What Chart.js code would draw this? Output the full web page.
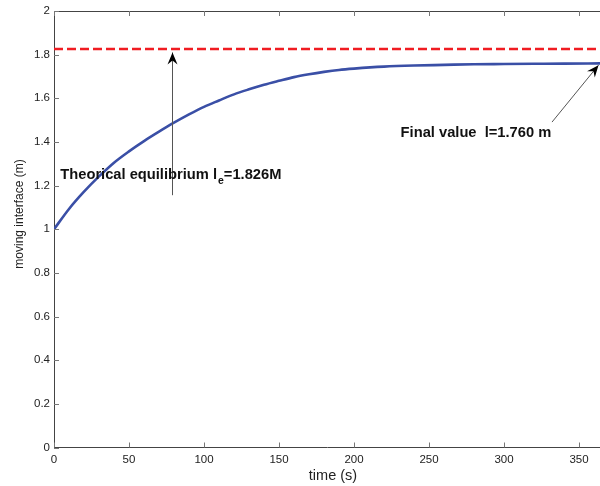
<!DOCTYPE html>
<html>
<head>
<meta charset="utf-8">
<script src="https://cdn.jsdelivr.net/npm/chart.js@4/dist/chart.umd.min.js"></script>
<style>
  html, body { margin: 0; padding: 0; background: #fff; overflow: hidden; }
  #wrap { width: 600px; height: 486px; position: relative; }
</style>
</head>
<body>
<div id="wrap"><canvas id="c" width="600" height="486"></canvas></div>
<script>
// ---- data ----
const times = [0, 10, 20, 30, 40, 50, 60, 70, 80, 90, 100, 110, 120, 130, 140, 150, 160, 170, 180, 190, 200, 220, 240, 260, 280, 300, 320, 340, 364];
const interfacePos = [1.000, 1.093, 1.172, 1.242, 1.305, 1.357, 1.404, 1.447, 1.488, 1.526, 1.561, 1.590, 1.618, 1.641, 1.662, 1.680, 1.697, 1.710, 1.721, 1.730, 1.736, 1.745, 1.750, 1.753, 1.756, 1.757, 1.758, 1.759, 1.760];
const equilibrium = 1.826;
const xRange = [0, 364];
const yRange = [0, 2];
const xStep = 50;
const yStep = 0.2;
const xTitle = 'time (s)';
const yTitle = 'moving interface (m)';
const eqLabel = ['Theorical equilibrium l', 'e', '=1.826M'];
const finalLabel = 'Final value  l=1.760 m';
// annotation anchors in data units
const eqArrow = { from: [79, 1.156], to: [79, 1.81] };
const eqText = { x: 4.2, y: 1.229 };
const finalArrow = { from: [332, 1.491], to: [363, 1.752] };
const finalText = { x: 331.5, y: 1.422 };

const FONT = '"Liberation Sans", Arial, Helvetica, sans-serif';

function drawArrow(ctx, x1, y1, x2, y2) {
  ctx.save();
  ctx.strokeStyle = '#555';
  ctx.lineWidth = 1;
  ctx.beginPath();
  ctx.moveTo(x1, y1);
  ctx.lineTo(x2, y2);
  ctx.stroke();
  const ang = Math.atan2(y2 - y1, x2 - x1);
  const L = 12, W = 5, back = 8;
  const bx = x2 - L * Math.cos(ang), by = y2 - L * Math.sin(ang);
  const nx = x2 - back * Math.cos(ang), ny = y2 - back * Math.sin(ang);
  const px = -Math.sin(ang), py = Math.cos(ang);
  ctx.fillStyle = '#000';
  ctx.beginPath();
  ctx.moveTo(x2, y2);
  ctx.lineTo(bx + px * W, by + py * W);
  ctx.lineTo(nx, ny);
  ctx.lineTo(bx - px * W, by - py * W);
  ctx.closePath();
  ctx.fill();
  ctx.restore();
}

const framePlugin = {
  id: 'matlabFrame',
  afterDatasetsDraw(chart) {
    const ctx = chart.ctx;
    const ca = chart.chartArea;
    const xs = chart.scales.x, ys = chart.scales.y;
    ctx.save();
    // top border
    ctx.strokeStyle = '#444';
    ctx.lineWidth = 1;
    ctx.beginPath();
    ctx.moveTo(ca.left, Math.round(ca.top) + 0.5);
    ctx.lineTo(ca.right, Math.round(ca.top) + 0.5);
    ctx.stroke();
    // inward ticks
    ctx.strokeStyle = '#777';
    ctx.beginPath();
    xs.ticks.forEach(t => {
      const px = Math.round(xs.getPixelForValue(t.value)) + 0.5;
      ctx.moveTo(px, ca.bottom); ctx.lineTo(px, ca.bottom - 5);
      ctx.moveTo(px, ca.top); ctx.lineTo(px, ca.top + 5);
    });
    ys.ticks.forEach(t => {
      const py = Math.round(ys.getPixelForValue(t.value)) + 0.5;
      ctx.moveTo(ca.left, py); ctx.lineTo(ca.left + 5, py);
    });
    ctx.stroke();
    ctx.restore();

    // arrows
    drawArrow(ctx, xs.getPixelForValue(eqArrow.from[0]), ys.getPixelForValue(eqArrow.from[1]),
                   xs.getPixelForValue(eqArrow.to[0]), ys.getPixelForValue(eqArrow.to[1]));
    drawArrow(ctx, xs.getPixelForValue(finalArrow.from[0]), ys.getPixelForValue(finalArrow.from[1]),
                   xs.getPixelForValue(finalArrow.to[0]), ys.getPixelForValue(finalArrow.to[1]));

    // annotation texts
    ctx.save();
    ctx.fillStyle = '#111';
    ctx.textBaseline = 'alphabetic';
    ctx.textAlign = 'left';
    let tx = xs.getPixelForValue(eqText.x);
    const ty = ys.getPixelForValue(eqText.y);
    ctx.font = 'bold 14.7px ' + FONT;
    ctx.fillText(eqLabel[0], tx, ty);
    tx += ctx.measureText(eqLabel[0]).width + 1;
    ctx.font = 'bold 10.5px ' + FONT;
    ctx.fillText(eqLabel[1], tx, ty + 5);
    tx += ctx.measureText(eqLabel[1]).width;
    ctx.font = 'bold 14.7px ' + FONT;
    ctx.fillText(eqLabel[2], tx, ty);

    ctx.textAlign = 'right';
    ctx.fillText(finalLabel, xs.getPixelForValue(finalText.x), ys.getPixelForValue(finalText.y));

    // axis titles
    ctx.fillStyle = '#222';
    ctx.textAlign = 'center';
    ctx.textBaseline = 'middle';
    ctx.font = '14.5px ' + FONT;
    ctx.fillText(xTitle, xs.getPixelForValue(186), ca.bottom + 28);
    ctx.font = '12px ' + FONT;
    ctx.translate(20, ys.getPixelForValue(1.07));
    ctx.rotate(-Math.PI / 2);
    ctx.fillText(yTitle, 0, 0);
    ctx.restore();
  }
};

new Chart(document.getElementById('c'), {
  type: 'line',
  data: {
    datasets: [
      {
        label: 'equilibrium',
        data: [{ x: xRange[0], y: equilibrium }, { x: xRange[1], y: equilibrium }],
        borderColor: '#f01c22',
        borderWidth: 2.5,
        borderDash: [9, 4],
        pointRadius: 0,
        fill: false
      },
      {
        label: 'interface',
        data: times.map((t, i) => ({ x: t, y: interfacePos[i] })),
        borderColor: '#3a4fa6',
        borderWidth: 2.6,
        pointRadius: 0,
        cubicInterpolationMode: 'monotone',
        fill: false
      }
    ]
  },
  options: {
    responsive: false,
    animation: false,
    events: [],
    layout: { padding: { top: 11, right: 0, left: 0, bottom: 0 } },
    plugins: { legend: { display: false }, tooltip: { enabled: false } },
    scales: {
      x: {
        type: 'linear',
        min: xRange[0], max: xRange[1],
        grid: { display: false, drawTicks: false },
        border: { display: true, color: '#444', width: 1 },
        ticks: { stepSize: xStep, includeBounds: false, padding: 5, color: '#222',
                 font: { family: FONT, size: 11.5 } },
        afterFit(s) { s.height = 38.5; }
      },
      y: {
        type: 'linear',
        min: yRange[0], max: yRange[1],
        grid: { display: false, drawTicks: false },
        border: { display: true, color: '#444', width: 1 },
        ticks: { stepSize: yStep, padding: 4, color: '#222',
                 font: { family: FONT, size: 11.5 },
                 callback: v => String(Math.round(v * 10) / 10) },
        afterFit(s) { s.width = 54; }
      }
    }
  },
  plugins: [framePlugin]
});
</script>
</body>
</html>
